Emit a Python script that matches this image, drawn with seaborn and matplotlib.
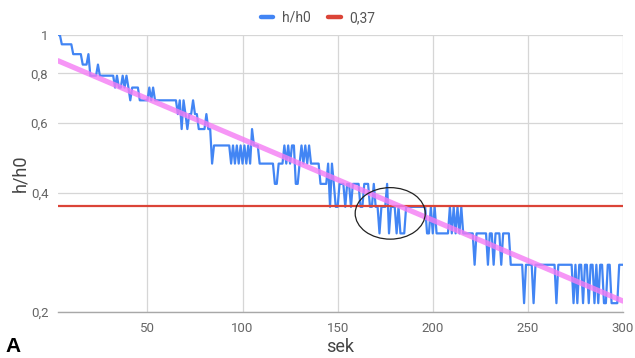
import numpy as np
import pandas as pd
import matplotlib
matplotlib.use("Agg")
import matplotlib.pyplot as plt
from matplotlib.patches import Ellipse
from matplotlib.lines import Line2D
from matplotlib.ticker import NullLocator
import seaborn as sns

# foam height readings, one per second, starting at t_start
t_start = 3
heights = [
    19, 19, 18, 18, 18, 18, 18, 18,
    17, 17, 17, 17, 17, 16, 16, 16, 17, 15,
    15, 15, 15, 16, 15, 15, 15, 15, 15, 15,
    15, 15, 14, 15, 14, 14, 15, 14, 15, 14,
    13, 14, 14, 14, 14, 13, 13, 13, 13, 13,
    14, 13, 14, 13, 13, 13, 13, 13, 13, 13,
    13, 13, 13, 13, 13, 12, 13, 11, 13, 12,
    11, 12, 12, 13, 12, 12, 11, 11, 11, 11,
    12, 11, 11, 9, 10, 10, 10, 10, 10, 10,
    10, 10, 10, 9, 10, 9, 10, 9, 10, 9,
    10, 9, 10, 9, 11, 10, 10, 10, 9, 9,
    9, 9, 9, 9, 9, 9, 8, 8, 9, 9,
    9, 10, 9, 10, 9, 10, 10, 8, 8, 9,
    10, 9, 10, 9, 10, 9, 9, 9, 9, 9,
    8, 8, 8, 8, 9, 7, 9, 8, 7, 7,
    8, 8, 8, 7, 8, 8, 7, 8, 8, 8,
    8, 7, 7, 8, 8, 8, 7, 7, 8, 7,
    7, 6, 7, 7, 7, 8, 6, 7, 7, 7,
    6, 7, 6, 6, 6, 7, 7, 7, 7, 7,
    7, 7, 7, 7, 7, 7, 6, 6, 7, 6,
    7, 6, 6, 6, 6, 6, 6, 6, 7, 6,
    7, 6, 7, 6, 7, 6, 6, 6, 6, 6,
    6, 5, 6, 6, 6, 6, 6, 6, 5, 6,
    6, 5, 6, 6, 6, 5, 6, 6, 6, 6,
    5, 5, 5, 5, 5, 5, 5, 4, 5, 5,
    5, 5, 4, 5, 5, 5, 5, 5, 5, 5,
    5, 5, 5, 5, 4, 5, 5, 5, 5, 5,
    5, 5, 5, 4, 5, 4, 5, 5, 4, 5,
    5, 4, 5, 5, 4, 5, 4, 5, 5, 4,
    4, 5, 5, 4, 4, 4, 4, 5, 5, 5,
]
h0 = 19
threshold = 0.37

y_ticks = [0.2, 0.4, 0.6, 0.8, 1.0]
y_tick_labels = ["0,2", "0,4", "0,6", "0,8", "1"]
x_ticks = [50, 100, 150, 200, 250, 300]

sek = np.arange(t_start, t_start + len(heights))
ratio = np.array(heights, dtype=float) / h0
df = pd.DataFrame({"sek": sek, "ratio": ratio})
df["threshold"] = threshold

# exponential trend line, least squares in log space
slope, ln_a = np.polyfit(df["sek"], np.log(df["ratio"]), 1)
df["trend"] = np.exp(ln_a + slope * df["sek"])

sns.set_theme(style="white")
plt.rcParams["font.family"] = ["Roboto", "DejaVu Sans"]

fig = plt.figure(figsize=(6.35, 3.58), dpi=100)
ax = fig.add_axes([58 / 635, 1 - 312 / 358, 565 / 635, 277 / 358])

blue = "#4285F4"
red = "#DB4437"
pink = "#F47CF4"

sns.lineplot(data=df, x="sek", y="ratio", color=blue, lw=1.6, ax=ax, zorder=3)
sns.lineplot(data=df, x="sek", y="threshold", color=red, lw=1.6, ax=ax, zorder=4)
sns.lineplot(data=df, x="sek", y="trend", color=pink, lw=3.8, alpha=0.8,
             ax=ax, zorder=5)

ax.set_yscale("log")
ax.set_ylim(0.2, 1.0)
ax.set_xlim(t_start, 300)
ax.set_yticks(y_ticks)
ax.set_yticklabels(y_tick_labels)
ax.yaxis.set_minor_locator(NullLocator())
ax.set_xticks(x_ticks)
ax.set_xticklabels([str(v) for v in x_ticks])

ax.grid(True, color="#d6d6d6", lw=0.9)
ax.set_axisbelow(True)
for side in ["top", "right", "left"]:
    ax.spines[side].set_visible(False)
ax.spines["bottom"].set_color("#a8a8a8")
ax.spines["bottom"].set_linewidth(1.0)
ax.tick_params(axis="both", length=0, labelsize=9.5, colors="#666666")
ax.tick_params(axis="y", pad=7)
ax.tick_params(axis="x", pad=7)

ax.set_xlabel("sek", fontsize=13, color="#444444")
ax.set_ylabel("h/h0", fontsize=13, color="#444444")
ax.xaxis.set_label_coords(0.5, -0.095)
ax.yaxis.set_label_coords(-0.05, 0.5)

# marked region around the crossing of the 0,37 level
ax.add_patch(Ellipse((0.588, 0.356), 0.124, 0.186, transform=ax.transAxes,
                     fill=False, edgecolor="#222222", lw=0.9, zorder=6))

handles = [Line2D([], [], color=blue, lw=3.2), Line2D([], [], color=red, lw=3.2)]
fig.legend(handles, ["h/h0", "0,37"], loc="center",
           bbox_to_anchor=(318 / 635, 1 - 18 / 358), ncol=2, frameon=False,
           fontsize=10, handlelength=0.9, handletextpad=0.6, columnspacing=1.3,
           labelcolor="#555555")

fig.text(5 / 635, 1 - 352 / 358, "A", fontsize=15, fontweight="bold",
         color="black", family=["Liberation Sans", "DejaVu Sans"],
         va="baseline", ha="left")

fig.savefig("out.png", dpi=100)
